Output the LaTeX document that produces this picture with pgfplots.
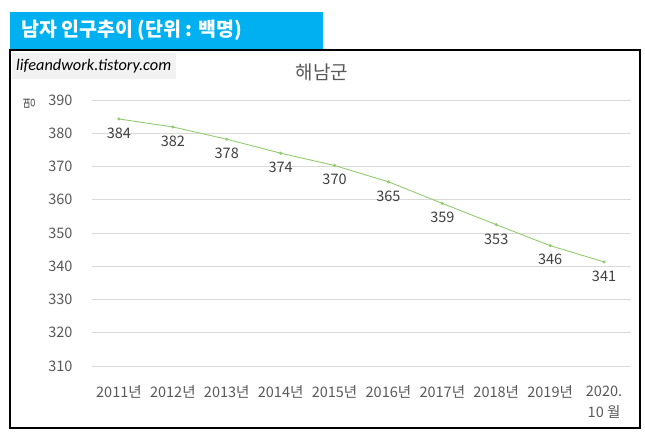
\documentclass[border=0pt]{standalone}
\usepackage{pgfplots}
\pgfplotsset{compat=1.18}
\usepackage{fontspec}
\setmainfont{Noto Sans CJK KR}
\newfontfamily\wmfont{Carlito}
\definecolor{banner}{HTML}{00B0F0}
\definecolor{txtgray}{HTML}{404040}
\definecolor{axgray}{HTML}{595959}
\definecolor{gridgray}{HTML}{D9D9D9}
\definecolor{linegreen}{HTML}{92CC70}
\definecolor{wmbg}{HTML}{F2F2F2}
\begin{document}
\begin{tikzpicture}[x=1pt,y=1pt]
\useasboundingbox (0,0) rectangle (645,-435);
\fill[white] (0,0) rectangle (645,-435);
% banner
\fill[banner] (10,-12) rectangle (323,-49);
\node[anchor=west,text=white,font=\fontsize{19.5}{21}\selectfont\bfseries,inner sep=0] at (21,-30.5) {남자 인구추이 (단위 : 백명)};
% chart frame
\draw[black,line width=1.3pt] (10,-50) rectangle (640,-428);
% watermark
\fill[wmbg] (12,-53) rectangle (176,-79);
\node[anchor=west,font=\fontsize{16.3}{18}\wmfont\itshape,inner sep=0,text=black] at (16,-66) {lifeandwork.tistory.com};
% title
\node[font=\fontsize{19}{21}\selectfont,text=axgray] at (322,-72) {해남군};
% y label
\node[rotate=90,font=\fontsize{13}{15}\selectfont,text=axgray] at (30,-104) {명};
\begin{axis}[
  at={(92pt,-366pt)}, anchor=south west,
  scale only axis, width=539pt, height=266pt,
  xmin=-0.5, xmax=9.5, ymin=310, ymax=390,
  xtick={0,...,9},
  xticklabels={2011년,2012년,2013년,2014년,2015년,2016년,2017년,2018년,2019년,{2020.\\[4pt]10 월}},
  ytick={310,320,...,390},
  ymajorgrids, grid style={gridgray,line width=0.8pt},
  axis line style={draw=none},
  major tick length=0pt,
  tick label style={font=\fontsize{14.5}{17}\selectfont,text=axgray},
  xticklabel style={anchor=north,align=center,yshift=-16pt},
  yticklabel style={anchor=east,xshift=-16pt},
  /pgf/number format/assume math mode=true,
  nodes near coords,
  point meta=explicit symbolic,
  nodes near coords style={anchor=north,yshift=-5pt,font=\fontsize{14.5}{17}\selectfont,text=txtgray},
  clip=false,
]
\addplot[linegreen,line width=0.9pt,mark=*,mark size=1.1pt,mark options={fill=linegreen,draw=linegreen}]
  table[meta=lab] {
x y lab
0 384.3 384
1 381.9 382
2 378.2 378
3 374.0 374
4 370.3 370
5 365.4 365
6 358.9 359
7 352.5 353
8 346.2 346
9 341.3 341
};
\end{axis}
\end{tikzpicture}
\end{document}
